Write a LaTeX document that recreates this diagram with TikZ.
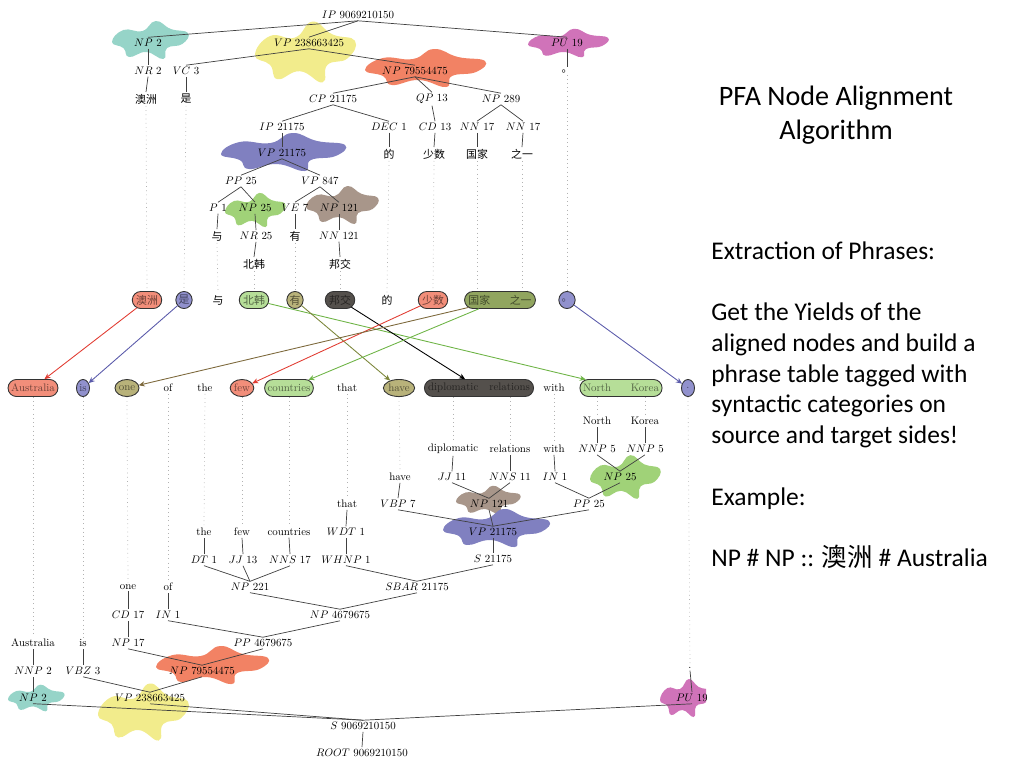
\documentclass[tikz,border=0pt]{standalone}
\usepackage{fontspec}
\usetikzlibrary{arrows.meta,positioning,shapes.misc,shapes.geometric}
\newfontfamily\cjk{Noto Sans CJK SC}
\newfontfamily\slidefont{Carlito}
% blob colours
\definecolor{tealblob}{RGB}{150,212,200}
\definecolor{yellowblob}{RGB}{242,236,140}
\definecolor{salmonblob}{RGB}{242,130,100}
\definecolor{violetblob}{RGB}{128,128,192}
\definecolor{pinkblob}{RGB}{208,115,185}
\definecolor{greenblob}{RGB}{160,210,120}
\definecolor{brownblob}{RGB}{168,150,138}
% yield colours
\definecolor{ysalmon}{RGB}{242,142,122}
\definecolor{ylav}{RGB}{145,145,205}
\definecolor{ygreen}{RGB}{182,222,152}
\definecolor{ykhaki}{RGB}{184,178,122}
\definecolor{ydark}{RGB}{84,80,76}
\definecolor{yolive}{RGB}{145,165,95}
% link colours
\definecolor{linkred}{RGB}{225,60,50}
\definecolor{linkblue}{RGB}{90,90,170}
\definecolor{linkgreen}{RGB}{110,180,70}
\definecolor{linkolive}{RGB}{125,135,60}
\definecolor{linkbrown}{RGB}{125,105,60}
\newcommand{\treefont}{\fontsize{10}{12}\selectfont}
\newcommand{\ct}[2]{$#1$~#2}
\newcommand{\blob}[5]{%
  \begin{scope}[shift={(#2,#3)}, xscale=#4, yscale=#5]
    \fill[#1] plot[smooth cycle, tension=0.8] coordinates {(-1,0.1) (-0.7,-0.5) (-0.2,-0.45) (0.15,-0.95) (0.55,-0.55) (1,-0.35) (0.85,0.2) (0.45,0.4) (0.35,0.95) (-0.1,0.6) (-0.55,0.85) (-0.7,0.4)};
  \end{scope}}

\begin{document}
\begin{tikzpicture}[x=0.02cm, y=-0.02cm,
    zh/.style={font=\treefont\cjk},
    branch/.style={black!75, line width=0.4pt},
    dotline/.style={black!30, dotted, line width=0.4pt},
    yield/.style={draw=black!80, line width=0.5pt, fill=#1, text=#1!45!black, minimum height=0.55cm},
    capsule/.style={yield=#1, rounded rectangle, inner xsep=2pt},
    oval/.style={yield=#1, ellipse, inner sep=0.3pt, minimum width=0.42cm},
    link/.style={line width=0.5pt, -{Stealth[length=3.5pt,width=3pt]}}]
\useasboundingbox (0,0) rectangle (1024,768);

\begin{scope}[every node/.append style={inner sep=1.6pt, font=\treefont, scale=0.62}]
\clip (0,0) rectangle (706,768);
% Blobs of the aligned nodes
\blob{tealblob}{150}{40}{38}{20}
\blob{yellowblob}{305}{52}{50}{32}
\blob{salmonblob}{425}{68}{60}{20}
\blob{pinkblob}{568}{43}{40}{15}
\blob{violetblob}{283}{152}{62}{20}
\blob{greenblob}{255}{210}{30}{18}
\blob{brownblob}{342}{205}{36}{20}
\blob{greenblob}{625}{477}{35}{23}
\blob{brownblob}{488}{500}{32}{15}
\blob{violetblob}{496}{528}{53}{20}
\blob{salmonblob}{212}{665}{56}{20}
\blob{yellowblob}{143}{712}{45}{30}
\blob{tealblob}{36}{698}{28}{14}
\blob{pinkblob}{685}{698}{25}{20}

% Chinese tree
\foreach \n/\x/\y/\t in {sIP/358/15/\ct{IP}{9069210150}, sNP/148/43/\ct{NP}{2},
    sVP/309/43/\ct{VP}{238663425}, sPU/567/43/\ct{PU}{19}, sNR/148/71/\ct{NR}{2},
    sVC/186/71/\ct{VC}{3}, sNPb/415/71/\ct{NP}{79554475}, sCP/333/99/\ct{CP}{21175},
    sQP/432/99/\ct{QP}{13}, sNPc/501/99/\ct{NP}{289}, sIPb/282/127/\ct{IP}{21175},
    sDEC/389/127/\ct{DEC}{1}, sCD/435/127/\ct{CD}{13}, sNNa/477/127/\ct{NN}{17},
    sNNb/523/127/\ct{NN}{17}, sVPb/282/153/\ct{VP}{21175}, sPP/241/181/\ct{PP}{25},
    sVPc/320/181/\ct{VP}{847}, sP/218/208/\ct{P}{1}, sNPd/255/208/\ct{NP}{25},
    sVE/295/208/\ct{VE}{7}, sNPe/339/208/\ct{NP}{121}, sNR2/256/236/\ct{NR}{25},
    sNN/339/236/\ct{NN}{121}}
  \node (\n) at (\x,\y) {\t};
\foreach \n/\x/\y/\t in {sDot/567/71/。, w1/146/99/澳洲, w2/186/99/是, w3/217/236/与,
    w4/254/264/北韩, w5/295/236/有, w6/340/264/邦交, w7/389/154/的, w8/434/154/少数,
    w9/477/154/国家, w10/522/154/之一}
  \node[zh] (\n) at (\x,\y) {\t};
\foreach \a/\b in {sIP/sNP, sIP/sVP, sIP/sPU, sNP/sNR, sNR/w1, sVP/sVC, sVC/w2,
    sVP/sNPb, sPU/sDot, sNPb/sCP, sNPb/sQP, sNPb/sNPc, sCP/sIPb, sCP/sDEC, sQP/sCD,
    sNPc/sNNa, sNPc/sNNb, sDEC/w7, sCD/w8, sNNa/w9, sNNb/w10, sIPb/sVPb, sVPb/sPP,
    sVPb/sVPc, sPP/sP, sPP/sNPd, sVPc/sVE, sVPc/sNPe, sP/w3, sNPd/sNR2, sVE/w5,
    sNPe/sNN, sNR2/w4, sNN/w6}
  \draw[branch] (\a.south) -- (\b.north);

% Chinese yields
\foreach \n/\x/\k/\c/\t in {ya/147/capsule/ysalmon/澳洲, yb/184/oval/ylav/是,
    yd/254/capsule/ygreen/北韩, ye/295/oval/ykhaki/有, yf/340/capsule/ydark/邦交,
    yh/433/capsule/ysalmon/少数, yi/500/capsule/yolive/{国家\hspace{18pt}之一},
    yj/567/oval/ylav/。}
  \node[\k=\c, zh] (\n) at (\x,300) {\t};
\node[zh] (yc) at (218,300) {与};
\node[zh] (yg) at (387,300) {的};
\foreach \a/\b in {w1/ya, w2/yb, w3/yc, w4/yd, w5/ye, w6/yf, w7/yg, w8/yh, sDot/yj}
  \draw[dotline] (\a.south) -- (\b.north);
\draw[dotline] (w9.south) -- (w9.south |- yi.north);
\draw[dotline] (w10.south) -- (w10.south |- yi.north);

% English yields
\foreach \n/\x/\k/\c/\t in {ta/33/capsule/ysalmon/Australia, tb/83/oval/ylav/is,
    tc/127/oval/ykhaki/one, tf/242/oval/ysalmon/few, tg/289/capsule/ygreen/countries,
    ti/399/oval/ykhaki/have, tj/479/capsule/ydark/{diplomatic\hspace{10pt}relations},
    tl/621/capsule/ygreen/{North\hspace{18pt}Korea}, tm/688/oval/ylav/.}
  \node[\k=\c] (\n) at (\x,388) {\t};
\foreach \n/\x/\t in {td/168/of, te/205/the, th/347/that, tk/554/with}
  \node (\n) at (\x,388) {\t};

% Alignment links
\draw[link, linkred] (ya) -- (ta);
\draw[link, linkblue] (yb) -- (tb);
\draw[link, linkgreen] (yd) -- (tl);
\draw[link, linkolive] (ye) -- (ti);
\draw[link, black] (yf) -- (tj);
\draw[link, linkred] (yh) -- (tf);
\draw[link, linkbrown] (yi) -- (tc);
\draw[link, linkgreen] (yi) -- (tg);
\draw[link, linkblue] (yj) -- (tm);

% English tree
\foreach \n/\x/\y/\t in {la/33/643/Australia, lb/83/643/is, lc/128/587/one,
    ld/168/587/of, le/204/532/the, lf/242/532/few, lg/289/532/countries,
    lh/347/504/that, li/400/477/have, lj/453/449/diplomatic, lk/510/449/relations,
    ll/554/449/with, lm/597/421/North, ln/645/421/Korea, lo/690/668/.}
  \node (\n) at (\x,\y) {\t};
\foreach \n/\x/\y/\t in {tNNPa/33/671/\ct{NNP}{2}, tVBZ/83/671/\ct{VBZ}{3},
    tNPb/202/671/\ct{NP}{79554475}, tNP/33/698/\ct{NP}{2}, tVP/150/698/\ct{VP}{238663425},
    tPU/692/698/\ct{PU}{19}, tS/363/726/\ct{S}{9069210150},
    tROOT/362/753/\ct{ROOT}{9069210150}, tCD/128/615/\ct{CD}{17}, tIN/168/615/\ct{IN}{1},
    tNPd/340/615/\ct{NP}{4679675}, tNPc/128/643/\ct{NP}{17}, tPP/263/643/\ct{PP}{4679675},
    tNPe/250/587/\ct{NP}{221}, tSBAR/417/587/\ct{SBAR}{21175}, tDT/204/560/\ct{DT}{1},
    tJJ/243/560/\ct{JJ}{13}, tNNS/290/560/\ct{NNS}{17}, tWHNP/346/560/\ct{WHNP}{1},
    tWDT/346/532/\ct{WDT}{1}, tS2/493/559/\ct{S}{21175}, tVP2/493/532/\ct{VP}{21175},
    tVBP/398/504/\ct{VBP}{7}, tNP121/489/504/\ct{NP}{121}, tPP25/589/504/\ct{PP}{25},
    tJJb/452/477/\ct{JJ}{11}, tNNSb/510/477/\ct{NNS}{11}, tINb/555/477/\ct{IN}{1},
    tNP25/620/477/\ct{NP}{25}, tNNPb/597/449/\ct{NNP}{5}, tNNPc/645/449/\ct{NNP}{5}}
  \node (\n) at (\x,\y) {\t};
\foreach \a/\b in {tROOT/tS, tS/tNP, tS/tVP, tS/tPU, tNP/tNNPa, tNNPa/la, tVP/tVBZ,
    tVBZ/lb, tVP/tNPb, tNPb/tNPc, tNPb/tPP, tNPc/tCD, tCD/lc, tPP/tIN, tIN/ld,
    tPP/tNPd, tNPd/tNPe, tNPd/tSBAR, tNPe/tDT, tNPe/tJJ, tNPe/tNNS, tDT/le, tJJ/lf,
    tNNS/lg, tSBAR/tWHNP, tWHNP/tWDT, tWDT/lh, tSBAR/tS2, tS2/tVP2, tVP2/tVBP,
    tVBP/li, tVP2/tNP121, tVP2/tPP25, tNP121/tJJb, tNP121/tNNSb, tJJb/lj, tNNSb/lk,
    tPP25/tINb, tINb/ll, tPP25/tNP25, tNP25/tNNPb, tNP25/tNNPc, tNNPb/lm, tNNPc/ln,
    tPU/lo}
  \draw[branch] (\a.north) -- (\b.south);
\foreach \a/\b in {ta/la, tb/lb, tc/lc, td/ld, te/le, tf/lf, tg/lg, th/lh, ti/li,
    tk/ll, tm/lo}
  \draw[dotline] (\a.south) -- (\b.north);
\foreach \a/\b in {tj/lj, tj/lk, tl/lm, tl/ln}
  \draw[dotline] (\b.north |- \a.south) -- (\b.north);
\end{scope}

% Slide text
\node[font=\slidefont\fontsize{16}{19}\selectfont, align=center, anchor=north, inner sep=0pt] (title) at (836,86) {PFA Node Alignment\\Algorithm};
\node[font=\slidefont\fontsize{14.5}{17.5}\selectfont, align=left, anchor=north west, inner sep=0pt] (body) at (711,241) {Extraction of Phrases:\\[17.5pt]
Get the Yields of the\\aligned nodes and build a\\phrase table tagged with\\syntactic categories on\\source and target sides!\\[17.5pt]
Example:\\[17.5pt]
NP \# NP :: {\cjk 澳洲} \# Australia};
\end{tikzpicture}
\end{document}
